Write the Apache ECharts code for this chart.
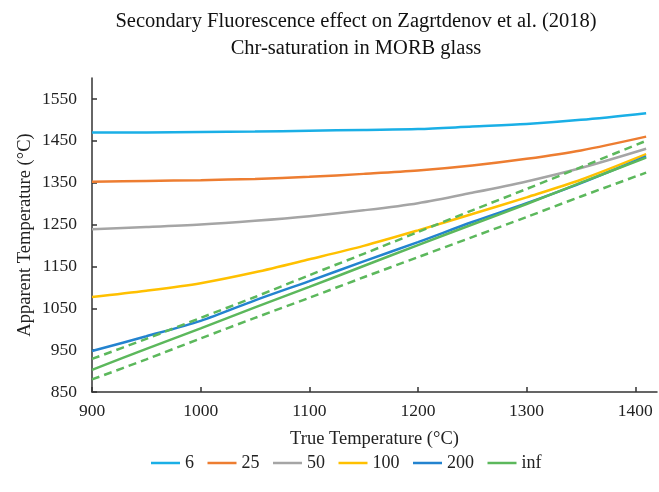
<!DOCTYPE html>
<html>
<head>
<meta charset="utf-8">
<script src="https://cdn.jsdelivr.net/npm/echarts@6/dist/echarts.min.js"></script>
<style>
  html, body { margin: 0; padding: 0; background: #fff; }
  #chart { width: 659px; height: 492px; }
</style>
</head>
<body>
<div id="chart"></div>
<script>
// true temperature (°C) where each curve was read
const trueT = [900, 950, 1000, 1050, 1100, 1150, 1200, 1250, 1300, 1350, 1410]

// apparent temperature (°C)
const s6 = [1470, 1470, 1471, 1472, 1474, 1476, 1478, 1484, 1490, 1500, 1516]
const s25 = [1352, 1354, 1356, 1359, 1364, 1371, 1379, 1391, 1407, 1427, 1460]
const s50 = [1239, 1244, 1250, 1259, 1270, 1284, 1301, 1326, 1353, 1385, 1431]
const s100 = [1077, 1092, 1110, 1136, 1167, 1199, 1236, 1275, 1315, 1357, 1418]
const s200 = [948, 983, 1020, 1069, 1115, 1162, 1208, 1256, 1301, 1349, 1413]
const sInf = [903, 953, 1002, 1052, 1101, 1151, 1201, 1250, 1299, 1350, 1410]
const infUpper = [929, 977, 1027, 1077, 1129, 1180, 1232, 1284, 1335, 1387, 1450]
const infLower = [880, 928, 978, 1027, 1075, 1124, 1172, 1220, 1268, 1317, 1374]

const xTicks = [900, 1000, 1100, 1200, 1300, 1400]
const yTicks = [850, 950, 1050, 1150, 1250, 1350, 1450, 1550]

const legendNames = ['6', '25', '50', '100', '200', 'inf']

const COLORS = {
  '6': '#1AAFE6',
  '25': '#ED7D31',
  '50': '#A5A5A5',
  '100': '#FFC000',
  '200': '#2383CF',
  'inf': '#5CB85C',
}

const FONT = '"Liberation Serif", "Times New Roman", serif'

const pair = (ys) => trueT.map((t, i) => [t, ys[i]])

function solid(name, ys) {
  return {
    name,
    type: 'line',
    data: pair(ys),
    smooth: 0.3,
    showSymbol: false,
    color: COLORS[name],
    lineStyle: { color: COLORS[name], width: 2.5 },
  }
}

// dashed bounds around the inf curve (no legend entry)
function dashed(name, ys) {
  return {
    name,
    type: 'line',
    data: pair(ys),
    smooth: 0.3,
    showSymbol: false,
    color: COLORS.inf,
    lineStyle: { color: COLORS.inf, width: 2.5, type: [8, 5] },
  }
}

const chart = echarts.init(document.getElementById('chart'), null, { renderer: 'canvas' })

chart.setOption({
  animation: false,
  backgroundColor: '#fff',
  title: {
    text: 'Secondary Fluorescence effect on Zagrtdenov et al. (2018)\nChr-saturation in MORB glass',
    left: 351,
    textAlign: 'center',
    top: 3,
    textStyle: { fontFamily: FONT, fontSize: 20.5, fontWeight: 'normal', color: '#111', lineHeight: 27 },
  },
  grid: { left: 92, right: 2, top: 78, bottom: 100 },
  legend: {
    data: legendNames,
    left: 146,
    top: 449,
    itemWidth: 29,
    itemHeight: 14,
    itemGap: 13.5,
    icon: 'path://M0,6 L29,6 L29,8.5 L0,8.5 Z',
    textStyle: { fontFamily: FONT, fontSize: 18, color: '#222' },
  },
  xAxis: {
    type: 'value',
    min: 900,
    max: 1420,
    name: 'True Temperature (°C)',
    nameLocation: 'middle',
    nameGap: 38,
    nameTextStyle: { fontFamily: FONT, fontSize: 18.5, color: '#222' },
    axisLine: { lineStyle: { color: '#333', width: 1.5 } },
    axisTick: { inside: true, length: 5, customValues: xTicks, lineStyle: { color: '#333', width: 1.5 } },
    axisLabel: { customValues: xTicks, formatter: (v) => String(v), fontFamily: FONT, fontSize: 17.5, color: '#222', margin: 10 },
    splitLine: { show: false },
  },
  yAxis: {
    type: 'value',
    min: 850,
    max: 1600,
    name: 'Apparent Temperature (°C)',
    nameLocation: 'middle',
    nameGap: 57,
    nameMoveOverlap: false,
    nameTextStyle: { fontFamily: FONT, fontSize: 18.5, color: '#222' },
    axisLine: { show: true, lineStyle: { color: '#333', width: 1.5 } },
    axisTick: { show: true, inside: true, length: 5, customValues: yTicks, lineStyle: { color: '#333', width: 1.5 } },
    axisLabel: { customValues: yTicks, formatter: (v) => String(v), fontFamily: FONT, fontSize: 17.5, color: '#222', margin: 15 },
    splitLine: { show: false },
  },
  series: [
    solid('6', s6),
    solid('25', s25),
    solid('50', s50),
    solid('100', s100),
    solid('200', s200),
    solid('inf', sInf),
    dashed('inf +', infUpper),
    dashed('inf -', infLower),
  ],
})
</script>
</body>
</html>
